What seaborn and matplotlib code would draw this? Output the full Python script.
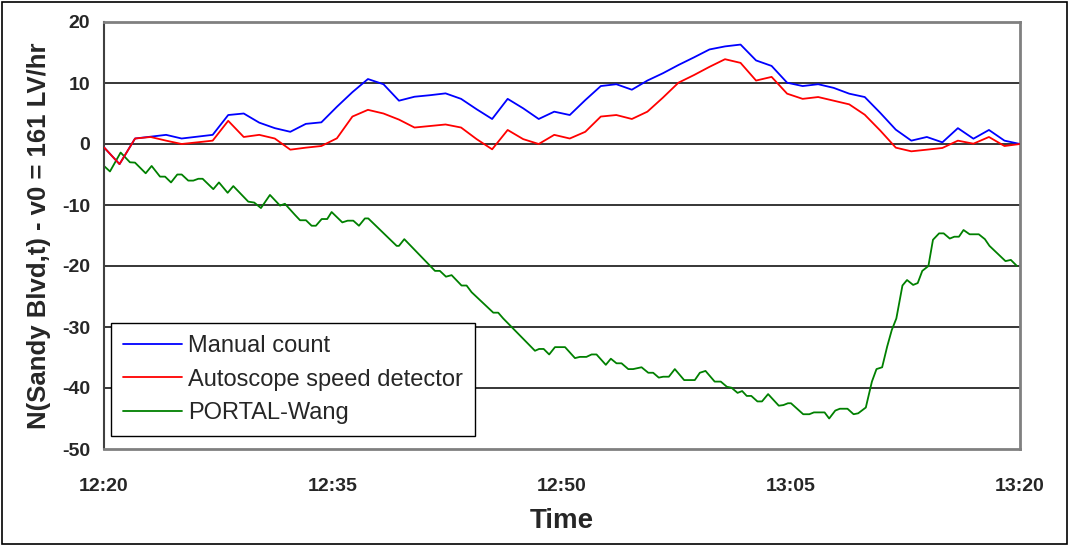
import numpy as np
import pandas as pd
import matplotlib
matplotlib.use("Agg")
import matplotlib.pyplot as plt
import seaborn as sns
from matplotlib.patches import Rectangle

# ---- data (minutes after 12:20) ----
x_ticks = [0, 15, 30, 45, 60]
x_tick_labels = ["12:20", "12:35", "12:50", "13:05", "13:20"]
y_ticks = [20, 10, 0, -10, -20, -30, -40, -50]

manual_count = [-0.55, -3.3, 0.9, 1.2, 1.5, 0.9, 1.2, 1.5, 4.75, 5.0,
                3.5, 2.6, 2.0, 3.3, 3.55, 6.1, 8.5, 10.65, 9.8, 7.1,
                7.75, 8.0, 8.3, 7.4, 5.7, 4.1, 7.4, 5.85, 4.1, 5.3,
                4.75, 7.2, 9.5, 9.8, 8.9, 10.4, 11.6, 12.95, 14.2, 15.5,
                16.0, 16.3, 13.7, 12.8, 10.05, 9.5, 9.8, 9.2, 8.25, 7.7,
                5.1, 2.35, 0.55, 1.15, 0.27, 2.6, 0.87, 2.3, 0.55, 0.0]
autoscope = [-0.55, -3.3, 0.9, 1.15, 0.55, 0.0, 0.27, 0.55, 3.8, 1.15,
             1.5, 0.9, -0.93, -0.6, -0.33, 0.93, 4.5, 5.6, 5.0, 4.0,
             2.7, 2.95, 3.2, 2.7, 0.8, -0.87, 2.3, 0.8, 0.0, 1.5,
             0.9, 2.0, 4.5, 4.75, 4.1, 5.3, 7.6, 10.05, 11.3, 12.65,
             13.9, 13.3, 10.4, 11.0, 8.25, 7.4, 7.7, 7.1, 6.5, 4.8,
             2.2, -0.6, -1.2, -0.93, -0.65, 0.55, 0.05, 1.15, -0.33, 0.0]
count_time = list(np.linspace(0, 60, len(manual_count)))

portal_time = [0, 0.39, 1.09, 1.7, 2.03, 2.73, 3.12, 3.67, 4.0, 4.39,
               4.8, 5.09, 5.52, 5.85, 6.18, 6.46, 7.16, 7.53, 8.1, 8.47,
               9.45, 9.84, 10.28, 10.87, 11.53, 11.85, 12.5, 12.84, 13.23, 13.6,
               13.88, 14.26, 14.62, 14.91, 15.61, 15.96, 16.33, 16.7, 17.09, 17.31,
               19.17, 19.32, 19.67, 21.68, 22.0, 22.4, 22.77, 23.42, 23.75, 24.08,
               25.5, 25.82, 26.15, 28.23, 28.5, 28.8, 29.16, 29.54, 30.2, 30.85,
               31.17, 31.6, 31.94, 32.26, 32.87, 33.2, 33.57, 33.9, 34.34, 34.66,
               35.21, 35.65, 35.97, 36.34, 36.63, 37.0, 37.39, 38.0, 38.7, 39.03,
               39.4, 40.0, 40.4, 40.8, 41.1, 41.5, 41.8, 42.1, 42.4, 42.8,
               43.1, 43.5, 44.2, 44.5, 44.8, 45.0, 45.8, 46.2, 46.5, 47.2,
               47.5, 47.9, 48.2, 48.7, 49.1, 49.4, 49.9, 50.3, 50.6, 50.97,
               51.3, 51.6, 51.9, 52.3, 52.6, 53.0, 53.3, 53.6, 54.0, 54.3,
               54.7, 55.0, 55.4, 55.7, 56.0, 56.3, 56.7, 57.3, 57.7, 58.0,
               59.05, 59.4, 59.8]
portal_wang = [-3.6, -4.5, -1.4, -3.0, -3.05, -4.8, -3.6, -5.35, -5.35, -6.3,
               -5.0, -5.0, -6.0, -6.0, -5.7, -5.7, -7.4, -6.3, -8.0, -6.9,
               -9.45, -9.6, -10.5, -8.35, -10.1, -9.8, -11.6, -12.5, -12.5, -13.4,
               -13.4, -12.3, -12.3, -11.15, -12.85, -12.57, -12.57, -13.4, -12.2, -12.2,
               -16.7, -16.7, -15.6, -20.8, -20.8, -21.75, -21.5, -23.2, -23.2, -24.3,
               -27.65, -27.65, -28.6, -33.9, -33.6, -33.6, -34.5, -33.3, -33.3, -35.1,
               -34.9, -34.9, -34.5, -34.5, -36.2, -35.2, -35.95, -35.95, -36.9, -36.9,
               -36.6, -37.5, -37.5, -38.3, -38.15, -38.15, -36.9, -38.7, -38.7, -37.5,
               -37.2, -38.95, -38.95, -39.8, -39.95, -40.8, -40.5, -41.3, -41.3, -42.2,
               -42.2, -41.0, -42.9, -42.8, -42.5, -42.5, -44.3, -44.3, -44.0, -44.0,
               -45.0, -43.7, -43.4, -43.4, -44.3, -44.15, -43.2, -38.95, -36.9, -36.6,
               -33.2, -30.5, -28.6, -23.2, -22.3, -23.1, -22.8, -20.8, -20.0, -15.7,
               -14.65, -14.65, -15.5, -15.2, -15.2, -14.1, -14.8, -14.8, -15.6, -16.7,
               -19.2, -19.0, -20.0]

series_names = ["Manual count", "Autoscope speed detector", "PORTAL-Wang"]
series_colors = ["#0000FF", "#FF0000", "#008000"]

# ---- plot ----
sns.set_style("white")
plt.rcParams["font.family"] = ["Liberation Sans", "DejaVu Sans"]

fig = plt.figure(figsize=(10.69, 5.46), dpi=100)
ax = fig.add_axes([104 / 1069, 1 - 449 / 546, (1020 - 104) / 1069, (449 - 22) / 546])

for yv in [10, 0, -10, -20, -30, -40]:
    ax.axhline(yv, color="black", lw=1.1, zorder=1)

sns.lineplot(x=count_time, y=manual_count, ax=ax, color=series_colors[0],
             lw=1.3, label=series_names[0], sort=False, estimator=None, zorder=3)
sns.lineplot(x=count_time, y=autoscope, ax=ax, color=series_colors[1],
             lw=1.3, label=series_names[1], sort=False, estimator=None, zorder=4)
sns.lineplot(x=portal_time, y=portal_wang, ax=ax, color=series_colors[2],
             lw=1.3, label=series_names[2], sort=False, estimator=None, zorder=2)

ax.set_xlim(0, 60)
ax.set_ylim(-50, 20)
ax.set_xticks(x_ticks)
ax.set_xticklabels(x_tick_labels, fontsize=14, fontweight="bold")
ax.set_yticks(y_ticks)
ax.set_yticklabels([str(v) for v in y_ticks], fontsize=14, fontweight="bold")
ax.tick_params(axis="y", direction="out", length=5, width=1, color="#555555", pad=5)
ax.tick_params(axis="x", length=0, pad=21)

ax.set_xlabel("Time", fontsize=20, fontweight="bold", labelpad=9)
ax.set_ylabel("N(Sandy Blvd,t) - v0 = 161 LV/hr", fontsize=18.5, fontweight="bold", labelpad=8)

for side in ["top", "right", "bottom"]:
    ax.spines[side].set_color("#808080")
    ax.spines[side].set_linewidth(2)
ax.spines["left"].set_color("#404040")
ax.spines["left"].set_linewidth(1.5)

leg = ax.legend(loc="lower left", bbox_to_anchor=(0.008, 0.03), fontsize=17,
                frameon=True, fancybox=False, edgecolor="black", framealpha=1,
                handlelength=2.5, handletextpad=0.25, borderpad=0.5,
                labelspacing=0.5, borderaxespad=0)
leg.get_frame().set_linewidth(1.0)

fig.patches.append(Rectangle((0.002, 0.003), 0.996, 0.994, transform=fig.transFigure,
                             fill=False, edgecolor="black", lw=1.2))

fig.savefig("out.png", dpi=100)
